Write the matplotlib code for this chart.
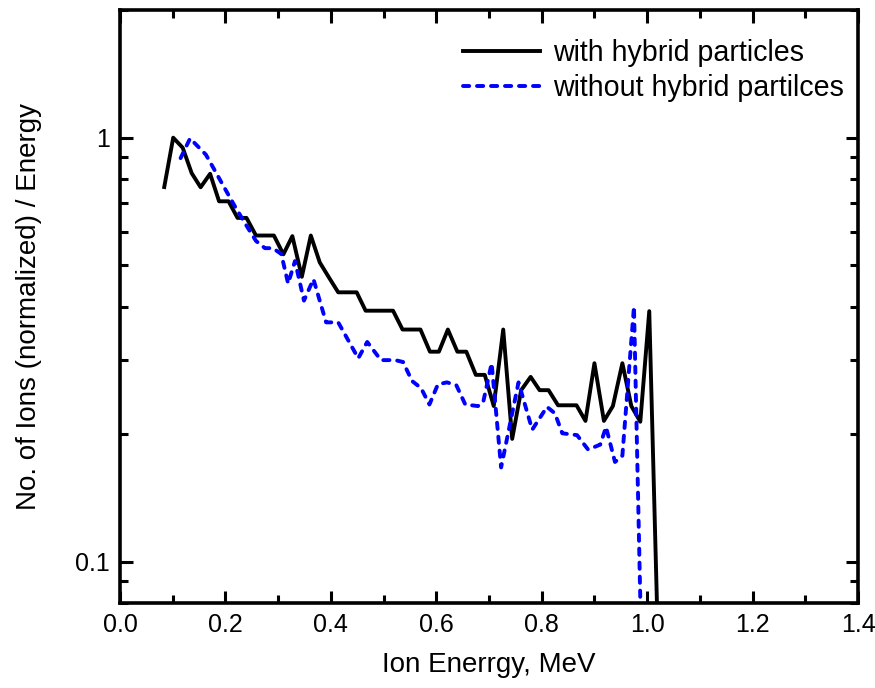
import matplotlib
matplotlib.use("Agg")
import matplotlib.pyplot as plt
from matplotlib.ticker import FixedLocator, NullFormatter, FixedFormatter, MultipleLocator, FormatStrFormatter

plt.rcParams['font.family'] = ['Liberation Sans', 'DejaVu Sans']

# with hybrid particles (energy in MeV, normalized counts / energy)
e_hybrid = [0.084, 0.101, 0.119, 0.136, 0.153, 0.171, 0.188, 0.206, 0.223, 0.240,
            0.258, 0.275, 0.292, 0.310, 0.327, 0.345, 0.362, 0.379, 0.397, 0.414,
            0.431, 0.449, 0.466, 0.483, 0.501, 0.518, 0.536, 0.553, 0.570, 0.588,
            0.605, 0.622, 0.640, 0.657, 0.675, 0.692, 0.709, 0.727, 0.744, 0.761,
            0.779, 0.796, 0.813, 0.831, 0.848, 0.866, 0.883, 0.900, 0.918, 0.935,
            0.953, 0.970, 0.987, 1.004, 1.022]
n_hybrid = [0.765, 1.0, 0.947, 0.825, 0.764, 0.822, 0.708, 0.708, 0.647, 0.647,
            0.588, 0.588, 0.588, 0.531, 0.586, 0.470, 0.588, 0.508, 0.467, 0.432,
            0.432, 0.432, 0.391, 0.391, 0.391, 0.391, 0.353, 0.353, 0.353, 0.313,
            0.313, 0.353, 0.313, 0.313, 0.276, 0.276, 0.233, 0.353, 0.195, 0.254,
            0.273, 0.254, 0.254, 0.234, 0.234, 0.234, 0.215, 0.294, 0.215, 0.233,
            0.294, 0.233, 0.214, 0.390, 0.055]

# without hybrid particles
e_plain = [0.115, 0.133, 0.163, 0.182, 0.201, 0.218, 0.237, 0.258, 0.275, 0.290,
           0.306, 0.319, 0.332, 0.349, 0.367, 0.391, 0.414, 0.452, 0.469, 0.495,
           0.522, 0.537, 0.554, 0.571, 0.587, 0.603, 0.620, 0.638, 0.655, 0.679,
           0.689, 0.705, 0.723, 0.756, 0.782, 0.810, 0.825, 0.839, 0.867, 0.888,
           0.911, 0.922, 0.939, 0.953, 0.975, 0.991]
n_plain = [0.895, 0.996, 0.912, 0.828, 0.751, 0.689, 0.629, 0.571, 0.549, 0.549,
           0.532, 0.453, 0.512, 0.413, 0.464, 0.367, 0.367, 0.302, 0.330, 0.299,
           0.299, 0.296, 0.267, 0.257, 0.235, 0.262, 0.265, 0.261, 0.235, 0.233,
           0.238, 0.294, 0.167, 0.265, 0.205, 0.232, 0.224, 0.201, 0.199, 0.184,
           0.189, 0.208, 0.172, 0.178, 0.400, 0.048]

fig = plt.figure(figsize=(8.75, 6.88), dpi=100)
ax = fig.add_axes([0.1371, 0.1235, 0.8435, 0.862])

ax.plot(e_hybrid, n_hybrid, color='black', lw=2.8, label='with hybrid particles')
ax.plot(e_plain, n_plain, color='#0000ff', lw=2.8, linestyle=(0, (1.6, 2.0)),
        dash_capstyle='round', label='without hybrid partilces')

ax.set_yscale('log')
ax.set_xlim(0.0, 1.4)
ax.set_ylim(0.08, 2.0)

ax.xaxis.set_major_locator(MultipleLocator(0.2))
ax.xaxis.set_minor_locator(MultipleLocator(0.1))
ax.xaxis.set_major_formatter(FormatStrFormatter('%.1f'))

ax.yaxis.set_major_locator(FixedLocator([0.1, 1.0]))
ax.yaxis.set_major_formatter(FixedFormatter(['0.1', '1']))
ax.yaxis.set_minor_locator(FixedLocator([0.08, 0.09, 0.2, 0.3, 0.4, 0.5, 0.6, 0.7, 0.8, 0.9, 2.0]))
ax.yaxis.set_minor_formatter(NullFormatter())

ax.tick_params(which='both', direction='in', top=True, right=True, width=2.2, labelsize=18)
ax.tick_params(which='major', length=9, pad=7)
ax.tick_params(which='minor', length=5.5)

for sp in ax.spines.values():
    sp.set_linewidth(2.6)

ax.set_xlabel('Ion Enerrgy, MeV', fontsize=20, labelpad=11)
ax.set_ylabel('No. of Ions (normalized) / Energy', fontsize=20, labelpad=24)

ax.legend(loc='upper right', bbox_to_anchor=(1.0, 0.975), frameon=False, fontsize=20.6,
          handlelength=2.7, handletextpad=0.45, borderaxespad=0.1, labelspacing=0.25)

fig.savefig('out.png', dpi=100)
